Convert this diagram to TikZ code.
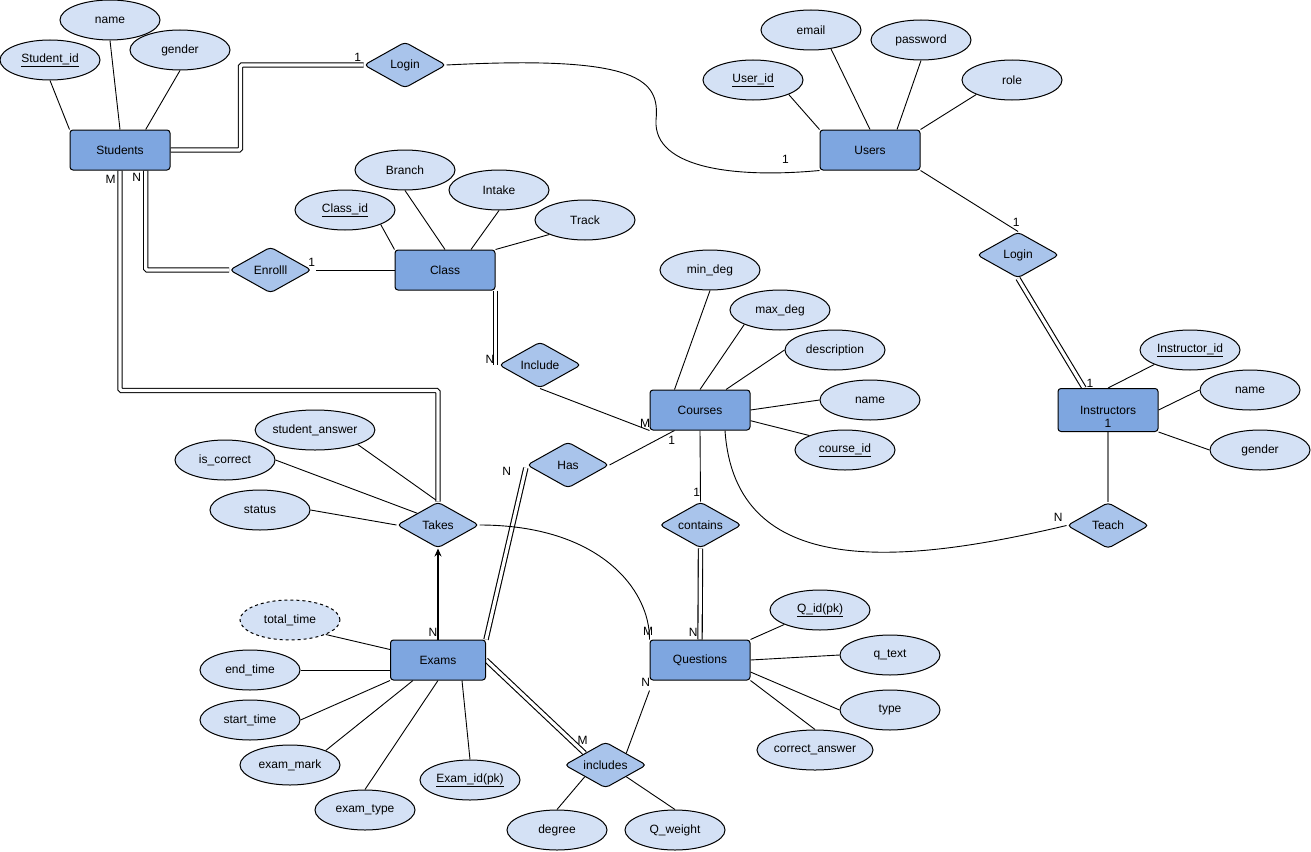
\documentclass[tikz,border=0pt]{standalone}
\usepackage{fontspec}
\setmainfont{Liberation Sans}
\usetikzlibrary{shapes.geometric,arrows.meta,calc}
\definecolor{entc}{HTML}{7EA6E0}
\definecolor{relc}{HTML}{A9C4EB}
\definecolor{attrc}{HTML}{D4E1F5}
\definecolor{grayline}{HTML}{7A7A7A}
\pgfdeclarelayer{bg}
\pgfsetlayers{bg,main}
\begin{document}
\begin{tikzpicture}[x=1pt,y=-1pt,font=\fontsize{12}{14}\selectfont,line width=1pt,
  ent/.style={rectangle,rounded corners=3pt,draw,fill=entc,minimum width=100pt,minimum height=40pt,inner sep=0pt},
  attr/.style={ellipse,draw,fill=attrc,minimum width=100pt,minimum height=40pt,inner sep=0pt},
  rel/.style={diamond,draw,fill=relc,aspect=1.8,minimum width=82pt,minimum height=46pt,inner sep=0pt,rounded corners=4pt},
  lbl/.style={inner sep=0pt},
  conn/.style={draw,line width=0.9pt},
  dbl/.style={draw,line width=1.1pt,double,double distance=3.2pt,rounded corners=1.5pt}]
\useasboundingbox (0,0) rectangle (1311,851);
% entities
\node[ent] (stu) at (120,150) {Students};
\node[ent] (users) at (870,150) {Users};
\node[ent] (cls) at (445,270) {Class};
\node[ent] (crs) at (700,410) {Courses};
\node[ent] (instr) at (1108,410) {\raisebox{0pt}[\dimexpr\height+16pt\relax][\depth]{\begin{tabular}{@{}c@{}}Instructors\\[-1pt]1\end{tabular}}};
\node[ent,minimum width=95pt] (exams) at (438,660) {Exams};
\node[ent] (qs) at (700,660) {Questions};
% relationships
\node[rel] (login1) at (405,65) {Login};
\node[rel] (login2) at (1018,255) {Login};
\node[rel] (enroll) at (270.5,270) {Enrolll};
\node[rel] (include) at (540,365) {Include};
\node[rel] (has) at (568,465) {Has};
\node[rel] (contains) at (700.5,525) {contains};
\node[rel] (teach) at (1108,525.5) {Teach};
\node[rel] (takes) at (438,525) {Takes};
\node[rel] (includes) at (605.5,765) {includes};
% attributes
\node[attr] (sid) at (50,60) {\underline{Student\_id}};
\node[attr] (snm) at (110,20) {name};
\node[attr] (sgen) at (180,50) {gender};
\node[attr] (uid) at (753,80) {\underline{User\_id}};
\node[attr] (email) at (811,30) {email};
\node[attr] (pwd) at (921,40) {password};
\node[attr] (role) at (1012,80) {role};
\node[attr] (cid) at (345,210) {\underline{Class\_id}};
\node[attr] (branch) at (405,170) {Branch};
\node[attr] (intake) at (499,190) {Intake};
\node[attr] (track) at (585,220) {Track};
\node[attr] (mindeg) at (710,270) {min\_deg};
\node[attr] (maxdeg) at (780,310) {max\_deg};
\node[attr] (desc) at (835,350) {description};
\node[attr] (cname) at (870,400) {name};
\node[attr] (cidc) at (845,450) {\underline{course\_id}};
\node[attr] (iid) at (1190,350) {\underline{Instructor\_id}};
\node[attr] (iname) at (1250,390) {name};
\node[attr] (igen) at (1260,450) {gender};
\node[attr] (sans) at (315,430) {student\_answer};
\node[attr] (iscor) at (225,460) {is\_correct};
\node[attr] (status) at (260,510) {status};
\node[attr,dashed] (ttime) at (290,620) {total\_time};
\node[attr] (etime) at (250,670) {end\_time};
\node[attr] (stime) at (250,720) {start\_time};
\node[attr] (emark) at (290,765) {exam\_mark};
\node[attr] (etype) at (365,810) {exam\_type};
\node[attr] (eid) at (470,780) {\underline{Exam\_id(pk)}};
\node[attr] (degree) at (557,830) {degree};
\node[attr] (qw) at (675,830) {Q\_weight};
\node[attr] (qid) at (820,610) {\underline{Q\_id(pk)}};
\node[attr] (qtext) at (890,655) {q\_text};
\node[attr] (qtype) at (890,710) {type};
\node[attr] (cans) at (815,750) {correct\_answer};
% cardinality labels
\node[lbl] (c1) at (357.7,57.3) {1};
\node[lbl] (c2) at (785.4,159.3) {1};
\node[lbl] (c3) at (1016.3,222.7) {1};
\node[lbl] (c4) at (1090,383.3) {1};
\node[lbl] (c5) at (1058.3,517.3) {N};
\node[lbl] (c6) at (110.7,179) {M};
\node[lbl] (c7) at (136.7,177.7) {N};
\node[lbl] (c8) at (311.7,262.7) {1};
\node[lbl] (c9) at (490,359) {N};
\node[lbl] (c10) at (645,423) {M};
\node[lbl] (c11) at (671.7,440.7) {1};
\node[lbl] (c12) at (696.7,492.7) {1};
\node[lbl] (c13) at (506.7,471.7) {N};
\node[lbl] (c14) at (433,632) {N};
\node[lbl] (c15) at (648,631) {M};
\node[lbl] (c16) at (693.3,632.3) {N};
\node[lbl] (c17) at (582.7,740.3) {M};
\node[lbl] (c18) at (645.7,682.7) {N};
\begin{pgfonlayer}{bg}
% Students attributes
\path[conn] (sid.south) -- (stu.north west);
\path[conn] (snm.south) -- (stu.north);
\path[conn] (sgen.south) -- ($(stu.north)+(25.7,0)$);
% Users attributes
\path[conn] (uid.south east) -- (users.north west);
\path[conn] ($(email.south)+(20,-1.5)$) -- (users.north);
\path[conn] (pwd.south) -- ($(users.north)+(27,0)$);
\path[conn] (role.south west) -- (users.north east);
% Class attributes
\path[conn] (cid.south east) -- (cls.north west);
\path[conn] (branch.south) -- (cls.north);
\path[conn] (intake.south) -- ($(cls.north)+(26,0)$);
\path[conn] (track.south west) -- (cls.north east);
% Courses attributes
\path[conn] (mindeg.south) -- ($(crs.north west)+(25,0)$);
\path[conn] (maxdeg.south west) -- (crs.north);
\path[conn] (desc.west) -- ($(crs.north)+(26,0)$);
\path[conn] (cname.west) -- (crs.east);
\path[conn] (cidc.north west) -- ($(crs.east)+(0,10.7)$);
% Instructors attributes
\path[conn] (iid.south west) -- (instr.north);
\path[conn] (iname.west) -- (instr.east);
\path[conn] (igen.west) -- (instr.south east);
% Takes attributes
\path[conn] (sans.south east) -- (takes.north);
\path[conn] (iscor.east) -- ($(takes.north)!0.5!(takes.west)$);
\path[conn] (status.east) -- (takes.west);
% Exams attributes
\path[conn] (ttime.south east) -- ($(exams.north west)+(0,10)$);
\path[conn] (etime.east) -- (etime.east -| exams.west);
\path[conn] (stime.east) -- (exams.south west);
\path[conn] (emark.north east) -- ($(exams.south west)+(23,0)$);
\path[conn] (etype.north) -- (exams.south);
\path[conn] (eid.north) -- ($(exams.south)+(24,0)$);
% includes attributes
\path[conn] (degree.north) -- ($(includes.south)!0.5!(includes.west)$);
\path[conn] (qw.north) -- ($(includes.south)!0.5!(includes.east)$);
% Questions attributes
\path[conn] (qid.south west) -- (qs.north east);
\path[conn] (qtext.west) -- (qs.east);
\path[conn] (qtype.west) -- ($(qs.east)+(0,12)$);
\path[conn] (cans.north) -- (qs.south east);
% relationships
\path[dbl] (stu.east) -- ++(70,0) |- (login1.west);
\path[conn] (login1.east) .. controls (640,55) and (660,80) .. (656,120)
   .. controls (653,170) and (740,178) .. (users.south west);
\path[conn] (users.south east) -- (login2.north);
\path[dbl] (login2.south) -- ($(instr.north)+(-24,0)$);
\path[draw=grayline,line width=1.3pt] (instr.south) -- (teach.north);
\path[conn] ($(crs.south)+(25,0)$) .. controls (735,580) and (900,565) .. (teach.west);
\path[dbl] ($(stu.south)+(25.7,0)$) |- (enroll.west);
\path[conn] ($(enroll.east)+(4,0)$) -- (cls.west);
\path[dbl] (cls.south east) -- (cls.south east |- include.west);
\path[conn] (include.south) -- (crs.south west);
\path[conn] (has.east) -- ($(crs.south west)+(25,0)$);
\path[dbl,shorten >=3pt] (exams.north east) -- (has.west);
\path[conn] (crs.south) -- (contains.north);
\path[dbl] (contains.south) -- (qs.north);
\path[dbl] (stu.south) -- ++(0,220) -| (takes.north);
\path[draw,line width=1.4pt,-{Stealth[length=8pt,width=7pt]}] (exams.north) -- (takes.south);
\path[conn] (takes.east) .. controls (600,525) and (650,590) .. (qs.north west);
\path[dbl] (exams.east) -- ($(includes.north)!0.5!(includes.west)$);
\path[conn] ($(includes.north)!0.5!(includes.east)$) -- ($(qs.south west)+(0,10)$);
\end{pgfonlayer}
\end{tikzpicture}
\end{document}
